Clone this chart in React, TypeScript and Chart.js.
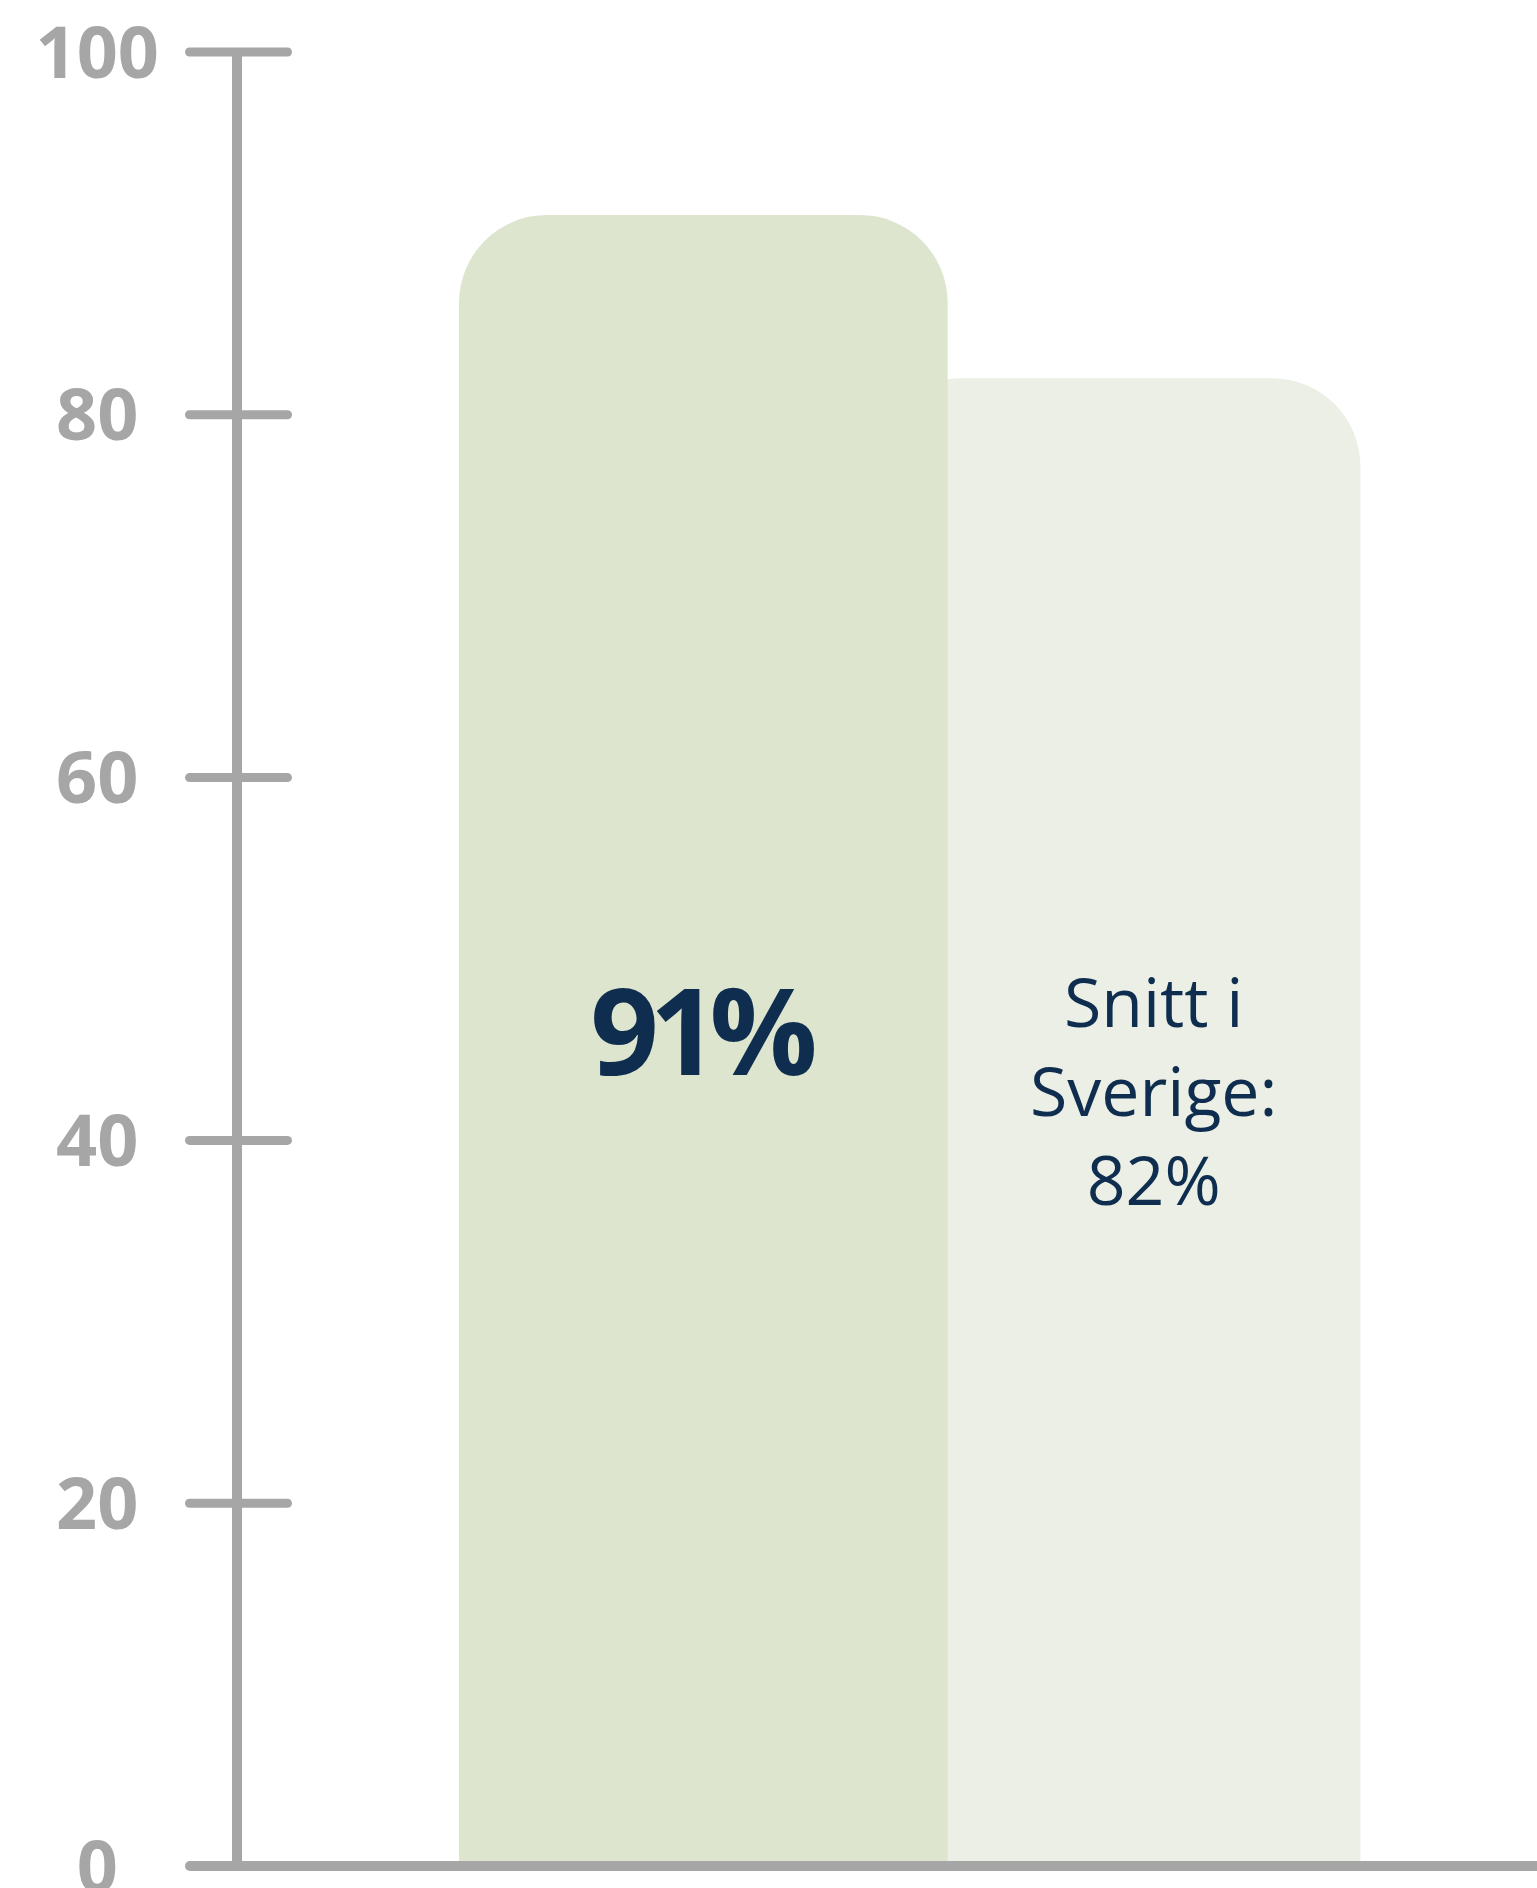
import React, { useEffect, useRef } from "react";
import { Chart, registerables } from "chart.js";

Chart.register(...registerables);

// ---- data ----
const barValues = [91, 82];
const barPositions = [1, 2];
const barColors = ["#dde5cf", "#ebefe5"];
const barLabelMain = ["91%"];
const barLabelAvg = ["Snitt i", "Sverige:", "82%"];
const yTickStep = 20;
const yMin = 0;
const yMax = 100;

const GREY = "#a6a6a6";
const NAVY = "#0e2d4f";
const FONT = "'Open Sans', 'DejaVu Sans', sans-serif";

const decorPlugin = {
  id: "decor",
  afterDatasetsDraw(chart: any) {
    const { ctx, chartArea } = chart;
    const y = chart.scales.y;
    const ax = chartArea.left;
    ctx.save();
    ctx.strokeStyle = GREY;
    // vertical axis
    ctx.lineWidth = 10;
    ctx.lineCap = "butt";
    ctx.beginPath();
    ctx.moveTo(ax, y.getPixelForValue(yMax) - 4);
    ctx.lineTo(ax, y.getPixelForValue(yMin));
    ctx.stroke();
    // tick marks
    ctx.lineWidth = 9;
    ctx.lineCap = "round";
    y.ticks.forEach((t: any) => {
      if (t.value === yMin) return;
      const py = y.getPixelForValue(t.value);
      ctx.beginPath();
      ctx.moveTo(ax - 47.5, py);
      ctx.lineTo(ax + 50.5, py);
      ctx.stroke();
    });
    // baseline
    ctx.lineWidth = 10;
    const by = y.getPixelForValue(yMin);
    ctx.beginPath();
    ctx.moveTo(ax - 47, by);
    ctx.lineTo(chart.width + 10, by);
    ctx.stroke();

    // labels
    const m0 = chart.getDatasetMeta(0).data[0] as any;
    const m1 = chart.getDatasetMeta(1).data[0] as any;
    ctx.fillStyle = NAVY;
    ctx.textAlign = "center";
    ctx.textBaseline = "alphabetic";
    ctx.font = `bold 120px ${FONT}`;
    try { (ctx as any).letterSpacing = "-9px"; } catch (e) {}
    ctx.fillText(barLabelMain[0], m0.x - 4, y.getPixelForValue(43.6));
    try { (ctx as any).letterSpacing = "0px"; } catch (e) {}
    ctx.font = `normal 68px ${FONT}`;
    const visLeft = m0.x + m0.width / 2;
    const visRight = m1.x + m1.width / 2;
    const cx = (visLeft + visRight) / 2;
    const midBase = y.getPixelForValue(41.35);
    const lh = 89;
    barLabelAvg.forEach((line, i) => {
      ctx.fillText(line, cx, midBase + (i - 1) * lh);
    });
    ctx.restore();
  },
};

export default function App() {
  const ref = useRef<HTMLCanvasElement>(null);
  useEffect(() => {
    if (!ref.current) return;
    const chart = new Chart(ref.current, {
      type: "bar",
      data: {
        datasets: [
          {
            data: [{ x: barPositions[0], y: barValues[0] }],
            backgroundColor: barColors[0],
            borderRadius: { topLeft: 88, topRight: 88, bottomLeft: 0, bottomRight: 0 },
            borderSkipped: false,
            barThickness: 488,
            grouped: false,
          } as any,
          {
            data: [{ x: barPositions[1], y: barValues[1] }],
            backgroundColor: barColors[1],
            borderRadius: { topLeft: 88, topRight: 88, bottomLeft: 0, bottomRight: 0 },
            borderSkipped: false,
            barThickness: 488,
            grouped: false,
          } as any,
        ],
      },
      options: {
        animation: false,
        responsive: false,
        maintainAspectRatio: false,
        layout: { padding: { top: 52, bottom: 22, left: 0, right: 0 } },
        plugins: { legend: { display: false }, tooltip: { enabled: false } },
        scales: {
          x: {
            type: "linear",
            display: false,
            offset: false,
            min: -0.13,
            max: 3.02,
          },
          y: {
            min: yMin,
            max: yMax,
            grid: { display: false },
            border: { display: false },
            ticks: {
              stepSize: yTickStep,
              color: GREY,
              font: { family: FONT, weight: "bold", size: 72 },
              crossAlign: "center",
              padding: 70,
              labelOffset: 5,
            },
            afterFit(scale: any) {
              scale.width = 237;
              scale.paddingTop = 0;
              scale.paddingBottom = 0;
            },
          },
        },
      },
      plugins: [decorPlugin],
    } as any);
    return () => chart.destroy();
  }, []);
  return (
    <div style={{ position: "absolute", left: 0, top: 0, width: 1537, height: 1888, background: "#fff" }}>
      <canvas ref={ref} width={1537} height={1888} />
    </div>
  );
}
